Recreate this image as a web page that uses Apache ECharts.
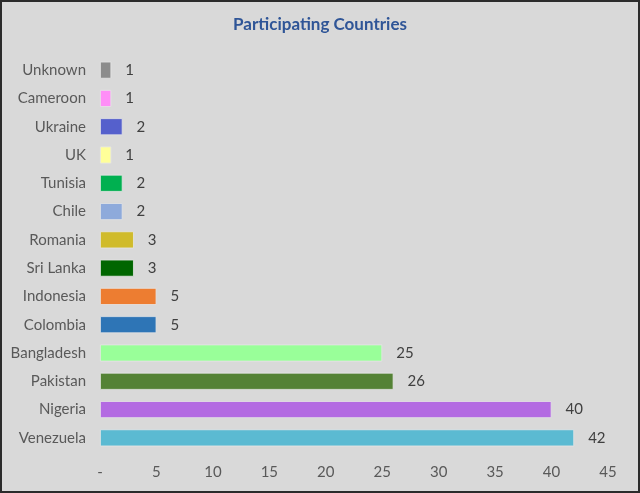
<!DOCTYPE html>
<html><head><meta charset="utf-8">
<script src="https://cdn.jsdelivr.net/npm/echarts@6/dist/echarts.min.js"></script>
<style>
html,body{margin:0;padding:0;background:#d9d9d9;}
#c{width:640px;height:493px;box-sizing:border-box;border:2px solid #2b2b2b;background:#d9d9d9;}
</style></head>
<body><div id="c"></div>
<script>
const categories = ["Unknown","Cameroon","Ukraine","UK","Tunisia","Chile","Romania","Sri Lanka","Indonesia","Colombia","Bangladesh","Pakistan","Nigeria","Venezuela"];
const values = [1,1,2,1,2,2,3,3,5,5,25,26,40,42];
const colors = ["#8c8c8c","#ff8ef7","#5560cc","#ffff99","#00b050","#8eaadb","#d0bb2a","#006600","#ed7d31","#2e75b6","#99ff99","#548235","#b36ae2","#5bbad2"];
const xTicks = [0,5,10,15,20,25,30,35,40,45];

const chart = echarts.init(document.getElementById('c'), null, {renderer:'canvas'});
const font = "Lato, 'Noto Sans', sans-serif";
chart.setOption({
  backgroundColor: '#d9d9d9',
  animation: false,
  title: {
    text: 'Participating Countries',
    left: 'center', top: 9,
    textStyle: {color:'#2f5597', fontSize:17, fontWeight:'bold', fontFamily:font}
  },
  grid: {left: 98, right: 30, top: 54, bottom: 39},
  xAxis: {
    type: 'value', min: 0, max: 45, interval: 5,
    axisLine: {show:false}, axisTick: {show:false}, splitLine: {show:false},
    axisLabel: {color:'#595959', fontSize:15, fontFamily:font, margin:13,
      formatter: v => v === 0 ? '-' : String(v)}
  },
  yAxis: {
    type: 'category', data: categories, inverse: true,
    axisLine: {show:false}, axisTick: {show:false},
    axisLabel: {color:'#595959', fontSize:15, fontFamily:font, margin:14}
  },
  series: [{
    type: 'bar',
    data: values.map((v,i) => ({value:v, itemStyle:{color:colors[i]}})),
    barWidth: 17,
    itemStyle: {borderColor:'#e6e6e6', borderWidth:0.8},
    label: {show:true, position:'right', distance:14, color:'#404040', fontSize:15, fontFamily:font}
  }]
});
</script></body></html>
